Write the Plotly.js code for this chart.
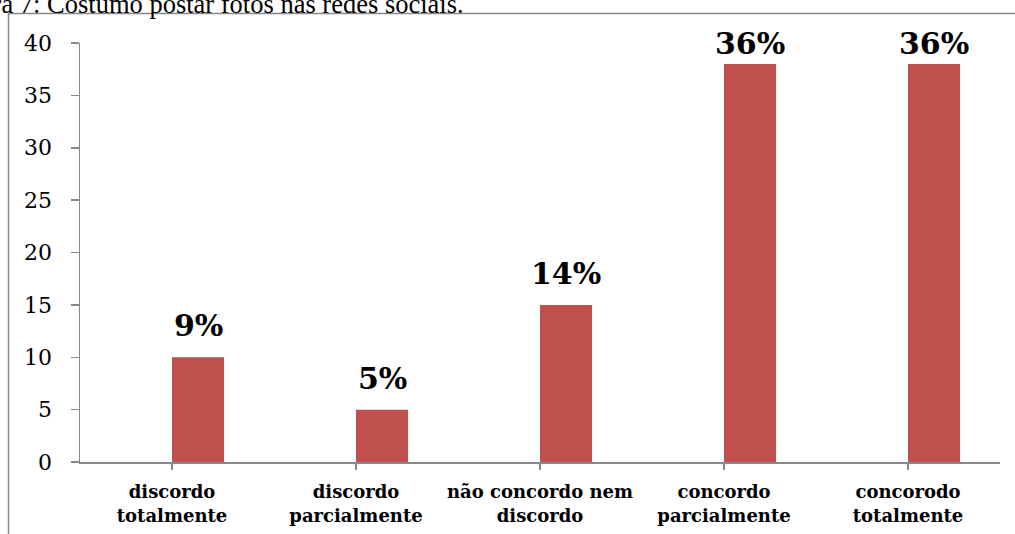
<!DOCTYPE html>
<html>
<head>
<meta charset="utf-8">
<script src="https://cdn.plot.ly/plotly-3.0.1.min.js"></script>
<style>html,body{margin:0;padding:0;background:#fff;}#chart{width:1015px;height:534px;}</style>
</head>
<body>
<div id="chart"></div>
<script>
const categories = ["discordo<br>totalmente", "discordo<br>parcialmente", "não concordo nem<br>discordo", "concordo<br>parcialmente", "concorodo<br>totalmente"];
const values = [10, 5, 15, 38, 38];
const pctLabels = ["9%", "5%", "14%", "36%", "36%"];
const titleText = "Figura 7: Costumo postar fotos nas redes sociais.";

const barWidth = 0.283;
const idx = categories.map((c, i) => i);

const trace = {
  type: "bar",
  x: idx,
  y: values,
  width: barWidth,
  offset: 0,
  marker: {color: "#C0504D"},
  hoverinfo: "none"
};

// labels near the top of the chart area are pushed down (less gap)
const annotations = values.map((v, i) => ({
  x: i + barWidth / 2, y: v, xref: "x", yref: "y",
  text: "<b>" + pctLabels[i] + "</b>", showarrow: false,
  yanchor: "bottom", xanchor: "center", yshift: v > 35 ? 1 : 12,
  font: {family: "DejaVu Serif", size: 30, color: "#000"}
}));
annotations.push({
  x: (466 - 80) / 920, y: (462 - 21) / 419, xref: "paper", yref: "paper",
  xanchor: "right", yanchor: "bottom", showarrow: false,
  text: titleText,
  font: {family: "Liberation Serif", size: 26.5, color: "#000"}
});

const layout = {
  width: 1015, height: 534,
  margin: {l: 80, r: 15, t: 43, b: 72, pad: 0},
  paper_bgcolor: "#fff", plot_bgcolor: "#fff",
  showlegend: false,
  xaxis: {
    range: [-0.5, 4.5],
    tickmode: "array", tickvals: idx, ticktext: categories,
    tickson: "boundaries", ticks: "outside", ticklen: 6, tickcolor: "#888", tickwidth: 1.5,
    showline: true, linecolor: "#888", linewidth: 1.5,
    showgrid: false, zeroline: false,
    ticklabelstandoff: 7,
    tickfont: {family: "DejaVu Serif", size: 18, color: "#000", weight: "bold"},
    fixedrange: true
  },
  yaxis: {
    range: [0, 40], tickmode: "linear", tick0: 0, dtick: 5,
    ticks: "outside", ticklen: 8, tickcolor: "#888", tickwidth: 1.5,
    showline: true, linecolor: "#888", linewidth: 1.5,
    showgrid: false, zeroline: false,
    ticklabelstandoff: 14,
    tickfont: {family: "DejaVu Serif", size: 22, color: "#000"},
    fixedrange: true
  },
  annotations: annotations,
  shapes: [
    {type: "line", xref: "paper", yref: "paper",
     x0: (8 - 80) / 920, x1: (1016 - 80) / 920, y0: (462 - 13.5) / 419, y1: (462 - 13.5) / 419,
     line: {color: "#888", width: 1.5}},
    {type: "line", xref: "paper", yref: "paper",
     x0: (8.5 - 80) / 920, x1: (8.5 - 80) / 920, y0: (462 - 13.5) / 419, y1: (462 - 540) / 419,
     line: {color: "#888", width: 1.5}}
  ]
};

Plotly.newPlot("chart", [trace], layout, {displayModeBar: false, staticPlot: true});
</script>
</body>
</html>
